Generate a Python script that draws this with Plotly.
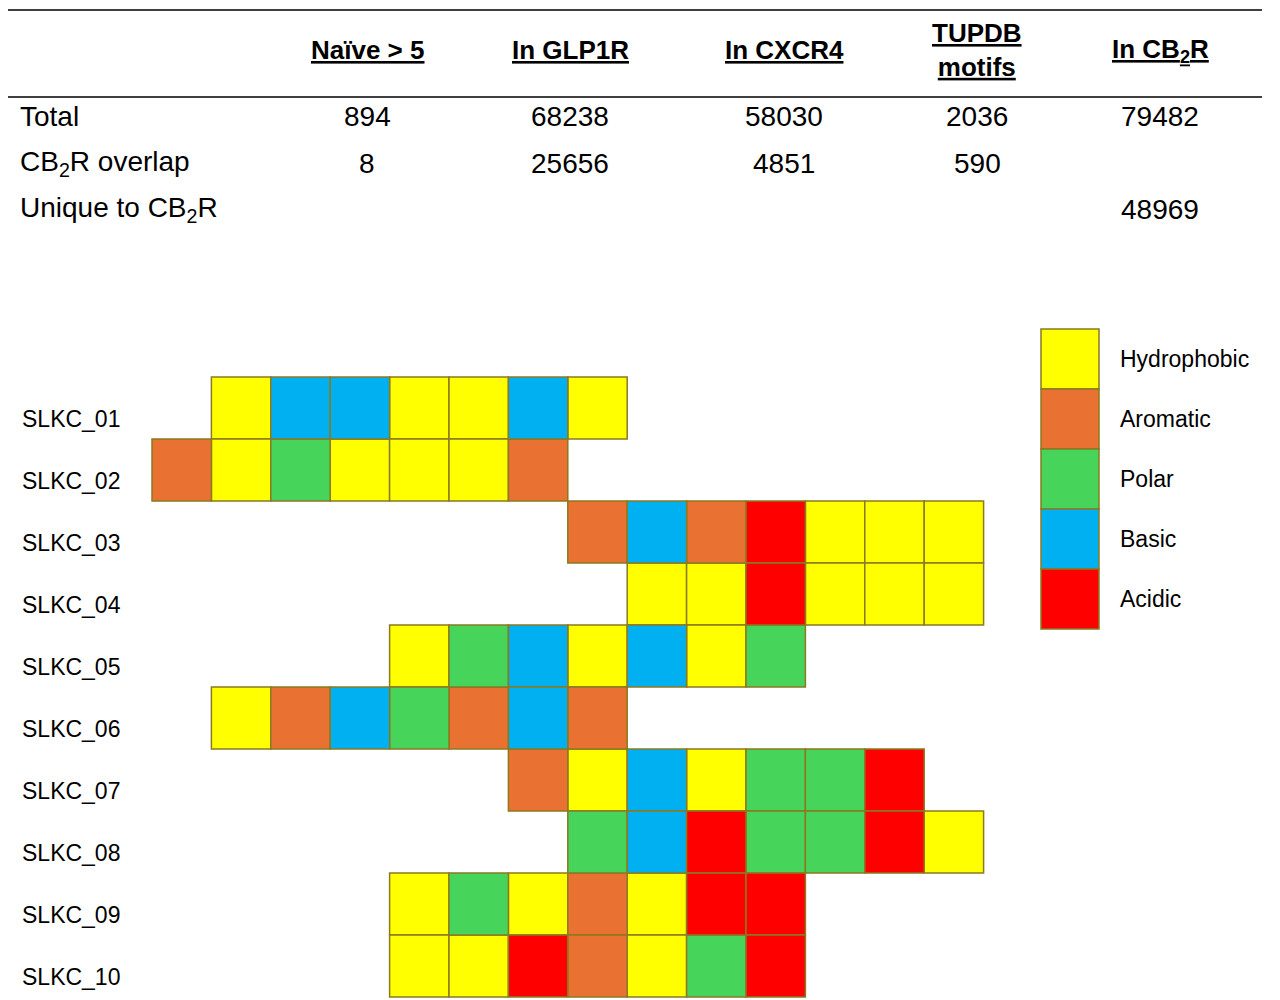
import plotly.graph_objects as go

# ---- table data ----
col_headers = ["<u>Naïve > 5</u>", "<u>In GLP1R</u>", "<u>In CXCR4</u>", "<u>TUPDB</u><br><u>motifs</u>", "<u>In CB<sub>2</sub>R</u>"]
row_headers = ["Total", "CB<sub>2</sub>R overlap", "Unique to CB<sub>2</sub>R"]
total_row = ["894", "68238", "58030", "2036", "79482"]
overlap_row = ["8", "25656", "4851", "590", ""]
unique_row = ["", "", "", "", "48969"]

# ---- peptide grid data ----
peptides = ["SLKC_01", "SLKC_02", "SLKC_03", "SLKC_04", "SLKC_05",
            "SLKC_06", "SLKC_07", "SLKC_08", "SLKC_09", "SLKC_10"]
starts = [1, 0, 7, 8, 4, 1, 6, 7, 4, 4]
sequences = ["HBBHHBH", "AHPHHHA", "ABAXHHH", "HHXHHH", "HPBHBHP",
             "HABPABA", "AHBHPPX", "PBXPPXH", "HPHAHXX", "HHXAHPX"]
classes = ["Hydrophobic", "Aromatic", "Polar", "Basic", "Acidic"]
class_codes = ["H", "A", "P", "B", "X"]
class_colors = ["#FFFF00", "#E97132", "#47D45A", "#00B0F0", "#FF0000"]

OFF = 8
W, H = 1280 - OFF, 1000 - OFF
unit_w, unit_h = 59.4, 62.0
x0_px, y0_px = 152 - OFF, 408 - OFF

fig = go.Figure()
for cls, code, col in zip(classes, class_codes, class_colors):
    bases, ys = [], []
    for r, (s, seq) in enumerate(zip(starts, sequences)):
        for i, c in enumerate(seq):
            if c == code:
                bases.append(s + i)
                ys.append(r)
    fig.add_trace(go.Bar(orientation="h", x=[1] * len(bases), base=bases, y=ys, width=1,
                         marker=dict(color=col, line=dict(color="#8a7a20", width=1.5)),
                         name=cls, showlegend=False, hoverinfo="skip"))

fig.update_layout(
    width=W, height=H, margin=dict(l=0, r=0, t=0, b=0),
    plot_bgcolor="white", paper_bgcolor="white", barmode="overlay",
    xaxis=dict(range=[-x0_px / unit_w, (W - x0_px) / unit_w], visible=False, fixedrange=True),
    yaxis=dict(range=[(H - y0_px) / unit_h, -y0_px / unit_h], visible=False, fixedrange=True),
    font=dict(family="Liberation Sans, Arial", color="black"),
)

def px(x): return (x - OFF) / W
def py(y): return 1 - (y - OFF) / H

anns = []
col_x = [367, 570, 784, 977, 1160]
for cx, hdr in zip(col_x, col_headers):
    anns.append(dict(x=px(cx), y=py(50), text=f"<b>{hdr}</b>", xanchor="center", font=dict(size=26)))
for ry, rh, vals in zip([117, 163, 209], row_headers, [total_row, overlap_row, unique_row]):
    anns.append(dict(x=px(18), y=py(ry), text=rh, xanchor="left", font=dict(size=28)))
    for cx, v in zip(col_x, vals):
        if v:
            anns.append(dict(x=px(cx), y=py(ry), text=v, xanchor="center", font=dict(size=28)))
for r, p in enumerate(peptides):
    anns.append(dict(x=px(20), y=py(y0_px + OFF + 11 + r * unit_h), text=p, xanchor="left", font=dict(size=23)))

shapes = [
    dict(type="line", xref="paper", yref="paper", x0=0, x1=px(1262), y0=py(10), y1=py(10), line=dict(color="black", width=1.5)),
    dict(type="line", xref="paper", yref="paper", x0=0, x1=px(1262), y0=py(97), y1=py(97), line=dict(color="black", width=1.5)),
]
for i, (cls, col) in enumerate(zip(classes, class_colors)):
    top = 329 + 60 * i
    shapes.append(dict(type="rect", xref="paper", yref="paper", x0=px(1041), x1=px(1099),
                       y0=py(top), y1=py(top + 60), fillcolor=col, line=dict(color="#8a7a20", width=1.5)))
    anns.append(dict(x=px(1118), y=py(top + 30), text=cls, xanchor="left", font=dict(size=23)))

for a in anns:
    a.update(xref="paper", yref="paper", showarrow=False, yanchor="middle")
fig.update_layout(annotations=anns, shapes=shapes)
fig.write_html("out.html")
